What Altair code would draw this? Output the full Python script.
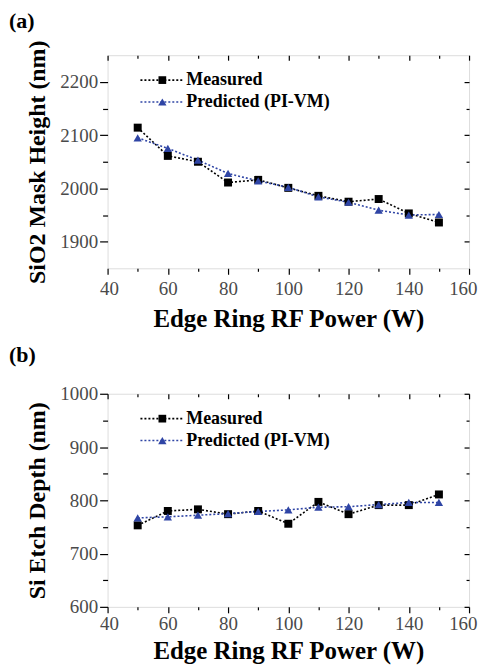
import altair as alt
import pandas as pd

# ---------------- data ----------------
power = [50, 60, 70, 80, 90, 100, 110, 120, 130, 140, 150]
mask_measured = [2114, 2061, 2050, 2011, 2016, 2001, 1986, 1975, 1980, 1953, 1936]
mask_predicted = [2095, 2075, 2053, 2028, 2014, 2002, 1984, 1974, 1959, 1950, 1951]
etch_measured = [753, 780, 783, 774, 780, 756, 797, 774, 791, 791, 811]
etch_predicted = [767, 769, 772, 775, 779, 782, 787, 788, 792, 796, 796]

series_names = ["Measured", "Predicted (PI-VM)"]
x_major = [40, 60, 80, 100, 120, 140, 160]
x_minor = [50, 70, 90, 110, 130, 150]
mask_major = [1900, 2000, 2100, 2200]
mask_minor = [1950, 2050, 2150]
etch_major = [600, 700, 800, 900, 1000]
etch_minor = [650, 750, 850, 950]

BLACK = "#000000"
BLUE = "#2f45a5"
SERIF = "Liberation Serif"
W, H = 363, 214


def panel(letter, ytitle, measured, predicted, ydom, ymaj, ymin, toff, lpad, tpad):
    df = pd.DataFrame({
        "power": power * 2,
        "value": measured + predicted,
        "series": [series_names[0]] * len(power) + [series_names[1]] * len(power),
    })
    xs = alt.Scale(domain=[40, 160], nice=False, zero=False)
    ys = alt.Scale(domain=ydom, nice=False, zero=False)
    ystep = ymaj[1] - ymaj[0]

    x_main = alt.Axis(
        values=sorted(x_major + x_minor), orient="bottom", domain=False, grid=False,
        tickSize={"condition": {"test": "datum.value % 20 === 0", "value": 6}, "value": 3},
        labelExpr="datum.value % 20 === 0 ? datum.label : ''",
        labelFont=SERIF, labelFontSize=19, labelColor="#4a4a4a", labelPadding=lpad,
        labelFlush=True, labelFlushOffset=8,
        title="Edge Ring RF Power (W)", titleFont=SERIF, titleFontSize=25,
        titleFontWeight="bold", titleColor="black", titlePadding=tpad,
        tickColor="black", tickWidth=1.2, labelOverlap=False,
    )
    y_main = alt.Axis(
        values=sorted(ymaj + ymin), orient="left", domain=False, grid=False,
        tickSize={"condition": {"test": f"datum.value % {ystep} === 0", "value": 8}, "value": 5},
        labelExpr=f"datum.value % {ystep} === 0 ? datum.label : ''",
        labelFont=SERIF, labelFontSize=19, labelColor="#4a4a4a", labelPadding=2,
        title=ytitle, titleFont=SERIF, titleFontSize=24, titleFontWeight="bold",
        titleColor="black", titlePadding=10, format="d",
        tickColor="black", tickWidth=1.2, labelFlush=False, labelOverlap=False,
    )
    x_top_major = alt.Axis(values=x_major, orient="top", labels=False, domain=False, grid=False,
                           tickSize=5, offset=-5, title=None, tickColor="black", tickWidth=1.2)
    y_right_major = alt.Axis(values=ymaj, orient="right", labels=False, domain=False, grid=False,
                             tickSize=5, offset=-5, title=None, tickColor="black", tickWidth=1.2)
    x_top_minor = alt.Axis(values=x_minor, orient="top", labels=False, domain=False, grid=False,
                           tickSize=3, offset=-3, title=None, tickColor="black", tickWidth=1.2)
    y_right_minor = alt.Axis(values=ymin, orient="right", labels=False, domain=False, grid=False,
                             tickSize=3, offset=-3, title=None, tickColor="black", tickWidth=1.2)

    base = alt.Chart(df)
    meas = base.transform_filter(alt.datum.series == series_names[0])
    pred = base.transform_filter(alt.datum.series == series_names[1])

    l1 = meas.mark_line(color=BLACK, strokeDash=[2, 2], strokeWidth=1.6).encode(
        x=alt.X("power:Q", scale=xs, axis=x_main),
        y=alt.Y("value:Q", scale=ys, axis=y_main))
    l2 = pred.mark_line(color=BLUE, strokeDash=[2, 2], strokeWidth=1.6).encode(
        x=alt.X("power:Q", scale=xs, axis=x_top_major),
        y=alt.Y("value:Q", scale=ys, axis=y_right_major))
    p1 = meas.mark_point(shape="square", filled=True, size=64, color=BLACK, opacity=1).encode(
        x=alt.X("power:Q", scale=xs, axis=x_top_minor),
        y=alt.Y("value:Q", scale=ys, axis=y_right_minor))
    p2 = pred.mark_point(shape="triangle-up", filled=True, size=70, color=BLUE, opacity=1).encode(
        x=alt.X("power:Q", scale=xs, axis=None),
        y=alt.Y("value:Q", scale=ys, axis=None))

    leg = alt.Chart(pd.DataFrame({"k": [0]}))
    legend_layers = []
    for i, (name, col, shp, sz) in enumerate(zip(series_names, [BLACK, BLUE],
                                                  ["square", "triangle-up"], [60, 70])):
        yy = 25 + 22 * i
        legend_layers += [
            leg.mark_rule(color=col, strokeDash=[2, 2], strokeWidth=1.6).encode(
                x=alt.value(33), x2=alt.value(75), y=alt.value(yy)),
            leg.mark_point(shape=shp, filled=True, size=sz, color=col, opacity=1).encode(
                x=alt.value(55), y=alt.value(yy)),
            leg.mark_text(align="left", baseline="middle", font=SERIF, fontSize=18,
                          fontWeight="bold", color="black").encode(
                x=alt.value(79), y=alt.value(yy), text=alt.value(name)),
        ]

    return alt.layer(l1, l2, p1, p2, *legend_layers).resolve_axis(
        x="independent", y="independent"
    ).properties(
        width=W, height=H,
        title=alt.TitleParams(letter, anchor="start", frame="group", dx=-99, offset=toff,
                              font=SERIF, fontSize=22, fontWeight="bold", color="black"),
    )


a = panel("(a)", "SiO2 Mask Height (nm)", mask_measured, mask_predicted,
          [1850, 2250], mask_major, mask_minor, 7, 5, 8)
b = panel("(b)", "Si Etch Depth (nm)", etch_measured, etch_predicted,
          [600, 1000], etch_major, etch_minor, 18, 2, 5)

chart = alt.vconcat(a, b, spacing=11).properties(
    padding={"left": 0, "top": 0, "right": 0, "bottom": 0}
).configure_view(stroke="black", strokeWidth=1.5).configure(background="white")

chart.save("out.html", embed_options={"renderer": "svg", "actions": False})
